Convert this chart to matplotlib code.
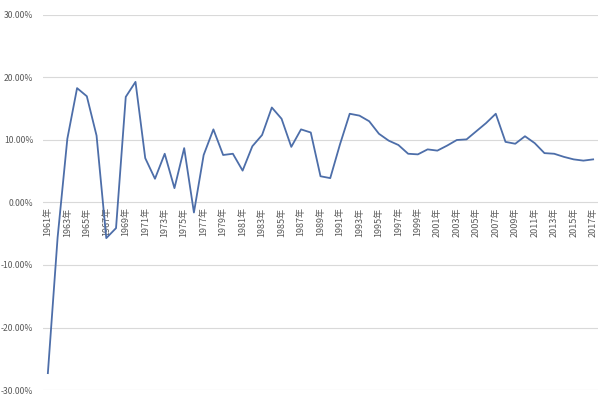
import matplotlib
matplotlib.use("Agg")
import matplotlib.pyplot as plt
from matplotlib.ticker import FuncFormatter

plt.rcParams['font.family'] = ['Noto Sans CJK SC', 'DejaVu Sans']

years = list(range(1961, 2018))
growth = [-27.3, -5.6, 10.2, 18.3, 17.0, 10.7, -5.7, -4.1, 16.9, 19.3,
          7.1, 3.8, 7.8, 2.3, 8.7, -1.6, 7.6, 11.7, 7.6, 7.8,
          5.1, 9.0, 10.8, 15.2, 13.4, 8.9, 11.7, 11.2, 4.2, 3.9,
          9.3, 14.2, 13.9, 13.0, 11.0, 9.9, 9.2, 7.8, 7.7, 8.5,
          8.3, 9.1, 10.0, 10.1, 11.4, 12.7, 14.2, 9.7, 9.4, 10.6,
          9.5, 7.9, 7.8, 7.3, 6.9, 6.7, 6.9]
tick_labels = [f"{y}年" for y in years]

fig = plt.figure(figsize=(6.08, 4.04), dpi=100)
ax = fig.add_axes([43/608, 1-390/404, (598-43)/608, (390-15)/404])

x = list(range(len(years)))
ax.plot(x, growth, color='#4d6ea9', lw=1.3, zorder=3)

ax.set_ylim(-30, 30)
ax.set_xlim(-0.5, len(years) - 0.5)
ax.set_yticks([-30, -20, -10, 0, 10, 20, 30])
ax.yaxis.set_major_formatter(FuncFormatter(lambda v, p: f"{v:.2f}%"))
ax.grid(axis='y', color='#d9d9d9', lw=0.8)
ax.set_axisbelow(True)
for s in ax.spines.values():
    s.set_visible(False)
ax.tick_params(axis='y', length=0, labelsize=6.2, colors='#595959', pad=7)
ax.set_xticks([])

for i in range(0, len(years), 2):
    ax.text(i, -0.8, tick_labels[i], rotation=90, ha='center', va='top',
            fontsize=6.5, color='#595959', zorder=2)

fig.savefig("out.png", dpi=100, facecolor='white')
